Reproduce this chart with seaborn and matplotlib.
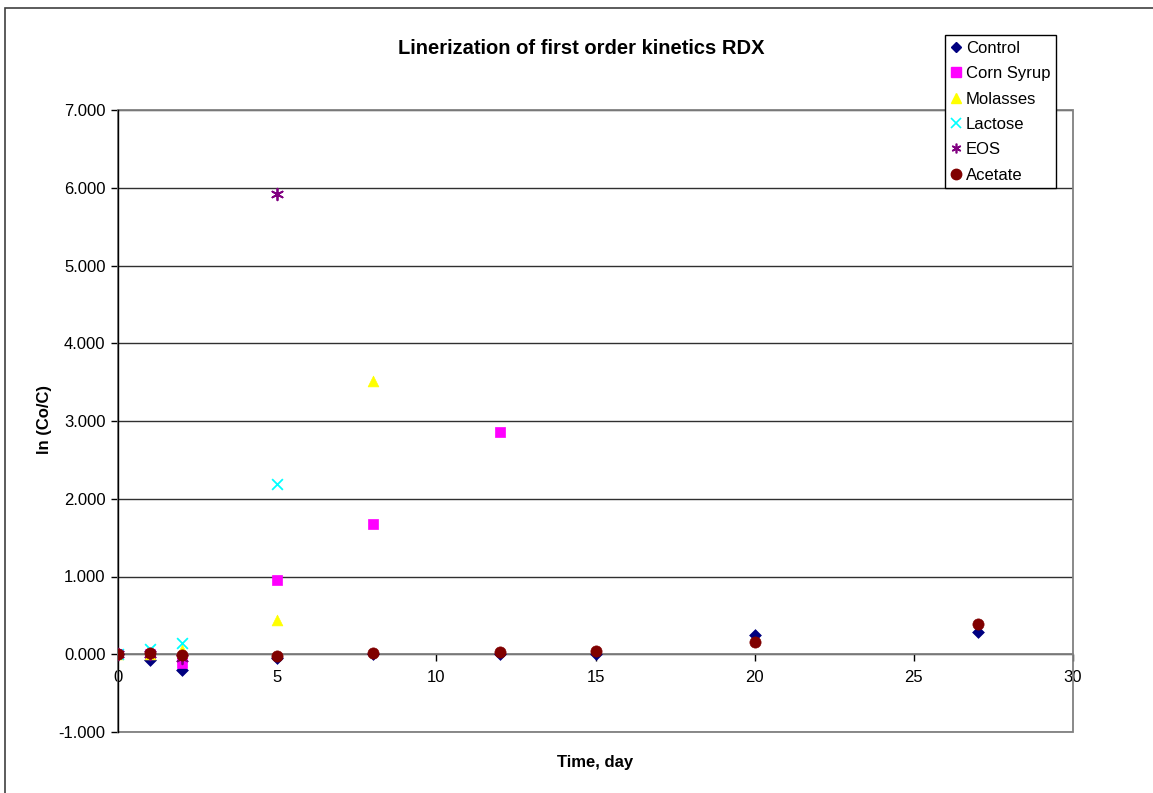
import matplotlib
matplotlib.use("Agg")
import matplotlib.pyplot as plt
import seaborn as sns
import pandas as pd
from matplotlib.patches import Rectangle
from matplotlib.lines import Line2D

# ---- data ----
series_names = ["Control", "Corn Syrup", "Molasses", "Lactose", "EOS", "Acetate"]
control_x = [0, 1, 2, 5, 8, 12, 15, 20, 27]
control_y = [0.0, -0.07, -0.20, -0.05, 0.0, 0.0, 0.0, 0.25, 0.29]
corn_x = [0, 1, 2, 5, 8, 12]
corn_y = [0.0, 0.0, -0.11, 0.96, 1.67, 2.86]
molasses_x = [0, 1, 2, 5, 8]
molasses_y = [0.0, 0.0, 0.05, 0.44, 3.52]
lactose_x = [0, 1, 2, 5]
lactose_y = [0.0, 0.07, 0.14, 2.19]
eos_x = [0, 1, 2, 5]
eos_y = [0.0, 0.0, -0.05, 5.92]
acetate_x = [0, 1, 2, 5, 8, 12, 15, 20, 27]
acetate_y = [0.0, 0.02, -0.01, -0.02, 0.01, 0.03, 0.04, 0.16, 0.39]

x_ticks = [0, 5, 10, 15, 20, 25, 30]
y_ticks = [-1, 0, 1, 2, 3, 4, 5, 6, 7]
title = "Linerization of first order kinetics RDX"
xlabel = "Time, day"
ylabel = "ln (Co/C)"

# ---- style ----
sns.set_style("white")
plt.rcParams["font.family"] = ["Liberation Sans", "DejaVu Sans"]
plt.rcParams["text.color"] = "black"
plt.rcParams["xtick.color"] = "black"
plt.rcParams["ytick.color"] = "black"
plt.rcParams["axes.labelcolor"] = "black"

colors = {"Control": "#000080", "Corn Syrup": "#FF00FF", "Molasses": "#FFFF00",
          "Lactose": "#00FFFF", "EOS": "#800080", "Acetate": "#800000"}
markers = {"Control": "D", "Corn Syrup": "s", "Molasses": "^",
           "Lactose": "x", "EOS": (6, 2, 0), "Acetate": "o"}
sizes = {"Control": 36, "Corn Syrup": 50, "Molasses": 60,
         "Lactose": 60, "EOS": 70, "Acetate": 65}

data = {
    "Control": (control_x, control_y),
    "Corn Syrup": (corn_x, corn_y),
    "Molasses": (molasses_x, molasses_y),
    "Lactose": (lactose_x, lactose_y),
    "EOS": (eos_x, eos_y),
    "Acetate": (acetate_x, acetate_y),
}

fig = plt.figure(figsize=(11.53, 7.93), dpi=100)
L, R, T, B = 118, 1073, 110, 732
W, H = 1153, 793
ax = fig.add_axes([L / W, 1 - B / H, (R - L) / W, (B - T) / H])

for name in series_names:
    xs, ys = data[name]
    df = pd.DataFrame({"x": xs, "y": ys})
    m = markers[name]
    if m == "x" or isinstance(m, tuple):
        sns.scatterplot(data=df, x="x", y="y", ax=ax, marker=m, s=sizes[name],
                        color=colors[name], linewidth=1.3, zorder=3, legend=False)
    else:
        sns.scatterplot(data=df, x="x", y="y", ax=ax, marker=m, s=sizes[name],
                        color=colors[name], edgecolor=colors[name], linewidth=0.5,
                        zorder=3, legend=False)

ax.set_xlim(0, 30)
ax.set_ylim(-1, 7)
ax.set_xticks(x_ticks)
ax.set_yticks(y_ticks)
ax.set_yticklabels([f"{v:.3f}" for v in y_ticks])
ax.set_xticklabels([str(v) for v in x_ticks])

# gridlines
ax.yaxis.grid(True, color="#303030", linewidth=1.0)
ax.xaxis.grid(False)
ax.set_axisbelow(True)

# spines
for s in ["top", "right"]:
    ax.spines[s].set_visible(False)
ax.spines["left"].set_color("black")
ax.spines["left"].set_linewidth(1.0)
ax.spines["bottom"].set_position(("data", 0))
ax.spines["bottom"].set_color("#808080")
ax.spines["bottom"].set_linewidth(1.3)
ax.add_patch(Rectangle((0, 0), 1, 1, transform=ax.transAxes, fill=False,
                       edgecolor="#808080", linewidth=1.3, zorder=1, clip_on=False))

ax.tick_params(axis="both", direction="out", length=5, width=1, color="black",
               labelcolor="black", labelsize=12, pad=4, bottom=True, left=True)
ax.tick_params(axis="x", pad=6)

ax.set_xlabel("")
ax.set_ylabel("")
fig.text((L + R) / 2 / W, 1 - 762 / H, xlabel, ha="center", va="center",
         fontsize=12, fontweight="bold", color="black")
fig.text(45 / W, 1 - 420 / H, ylabel, ha="center", va="center", rotation=90,
         fontsize=12, fontweight="bold", color="black")
fig.text(581 / W, 1 - 49 / H, title, ha="center", va="center",
         fontsize=14.5, fontweight="bold", color="black")

# chart-area frame
fig.add_artist(Rectangle((5 / W, -0.1), 1.2, 1 - 8 / H + 0.1, transform=fig.transFigure,
                         fill=False, edgecolor="#404040", linewidth=1.2))

# legend
handles = []
for name in series_names:
    m = markers[name]
    if m == "x" or isinstance(m, tuple):
        h = Line2D([], [], linestyle="none", marker=m, markersize=7,
                   color=colors[name], markeredgewidth=1.2)
    else:
        ms = {"D": 5.5, "s": 6.5, "^": 7.5, "o": 7.5}[m]
        h = Line2D([], [], linestyle="none", marker=m, markersize=ms,
                   color=colors[name], markeredgecolor=colors[name])
    handles.append(h)
leg = fig.legend(handles, series_names, loc="upper left",
                 bbox_to_anchor=(945 / W, 1 - 35 / H), frameon=True, fancybox=False,
                 edgecolor="black", framealpha=1, fontsize=12, handlelength=0.6,
                 handletextpad=0.3, borderpad=0.35, labelspacing=0.62, borderaxespad=0)
leg.get_frame().set_linewidth(1.0)
for t in leg.get_texts():
    t.set_color("black")

fig.savefig("out.png", dpi=100)
